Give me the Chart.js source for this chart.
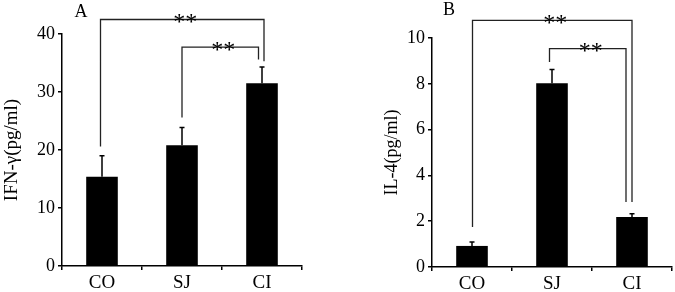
<!DOCTYPE html>
<html>
<head>
<meta charset="utf-8">
<script src="https://cdn.jsdelivr.net/npm/chart.js@4.4.1/dist/chart.umd.min.js"></script>
<style>
    html, body { margin: 0; padding: 0; background: #fff; }
    #wrap { position: relative; width: 675px; height: 292px; }
    canvas { position: absolute; top: 0; }
</style>
</head>
<body>
<div id="wrap">
    <canvas id="chartA" width="340" height="292" style="left:0"></canvas>
    <canvas id="chartB" width="335" height="292" style="left:340px"></canvas>
</div>
<script>
const groups = ['CO', 'SJ', 'CI'];

const ifnMeans = [15.4, 20.8, 31.5];
const ifnErrors = [3.6, 3.1, 2.8];
const il4Means = [0.92, 8.02, 2.18];
const il4Errors = [0.17, 0.6, 0.15];

// significance brackets: [fromBar, toBar, fromLegEnd, toLegEnd, top] (data units)
const ifnBrackets = [[0, 2, 20.6, 35.3, 42.5], [1, 2, 25.6, 35.6, 37.75]];
const il4Brackets = [[0, 2, 1.75, 2.84, 10.77], [1, 2, 8.95, 2.84, 9.54]];

const FONT = "'Liberation Serif', 'Times New Roman', serif";

// small pixel nudges so the two legs next to CI don't overlap
const ifnLegShift = [[-1.5, 2], [0, -3.5]];
const il4LegShift = [[0.5, 0], [-2.5, -6]];

const errorBars = {
    id: 'errorBars',
    afterDatasetsDraw(chart) {
        const ctx = chart.ctx;
        const y = chart.scales.y;
        const ds = chart.data.datasets[0];
        ctx.save();
        ctx.strokeStyle = '#000';
        ctx.lineWidth = 1.5;
        chart.getDatasetMeta(0).data.forEach((bar, i) => {
            const top = y.getPixelForValue(ds.data[i] + ds.errors[i]);
            ctx.beginPath();
            ctx.moveTo(bar.x, bar.y);
            ctx.lineTo(bar.x, top);
            ctx.moveTo(bar.x - 2.5, top);
            ctx.lineTo(bar.x + 2.5, top);
            ctx.stroke();
        });
        ctx.restore();
    }
};

function bracketPlugin(brackets, shifts, letter, letterX, letterY) {
    return {
        id: 'brackets',
        afterDraw(chart) {
            const ctx = chart.ctx;
            const y = chart.scales.y;
            const bars = chart.getDatasetMeta(0).data;
            ctx.save();
            ctx.strokeStyle = '#222';
            ctx.lineWidth = 1.3;
            ctx.fillStyle = '#000';
            brackets.forEach((b, k) => {
                const x1 = bars[b[0]].x + shifts[k][0];
                const x2 = bars[b[1]].x + shifts[k][1];
                const yTop = y.getPixelForValue(b[4]);
                ctx.beginPath();
                ctx.moveTo(x1, y.getPixelForValue(b[2]));
                ctx.lineTo(x1, yTop);
                ctx.lineTo(x2, yTop);
                ctx.lineTo(x2, y.getPixelForValue(b[3]));
                ctx.stroke();
                ctx.font = '24px ' + FONT;
                ctx.textAlign = 'center';
                ctx.textBaseline = 'alphabetic';
                ctx.fillText('**', (x1 + x2) / 2 + 3, yTop + 9.5);
            });
            ctx.font = '18px ' + FONT;
            ctx.textAlign = 'center';
            ctx.textBaseline = 'middle';
            ctx.fillText(letter, letterX, letterY);
            ctx.restore();
        }
    };
}

function makeChart(id, means, errors, max, step, title, titleSize, titlePad, axisWidth, pad, xHeight, plugin) {
    return new Chart(document.getElementById(id), {
        type: 'bar',
        plugins: [errorBars, plugin],
        data: {
            labels: groups,
            datasets: [{
                data: means,
                errors: errors,
                backgroundColor: '#000',
                borderWidth: 0,
                barPercentage: 0.395,
                categoryPercentage: 1
            }]
        },
        options: {
            responsive: false,
            animation: false,
            devicePixelRatio: 1,
            layout: { padding: pad },
            plugins: { legend: { display: false }, tooltip: { enabled: false } },
            scales: {
                x: {
                    ticks: { color: '#000', font: { family: FONT, size: 19 }, padding: 2 },
                    grid: { drawOnChartArea: false, tickLength: 4, color: '#000', lineWidth: 1.5, offset: true },
                    border: { color: '#000', width: 1.5 },
                    afterFit: (scale) => { scale.height = xHeight; }
                },
                y: {
                    min: 0,
                    max: max,
                    ticks: { stepSize: step, color: '#000', font: { family: FONT, size: 18 }, padding: 3 },
                    grid: { drawOnChartArea: false, tickLength: 4, color: '#000', lineWidth: 1.5 },
                    border: { color: '#000', width: 1.5 },
                    title: {
                        display: true,
                        text: title,
                        color: '#000',
                        font: { family: FONT, size: titleSize },
                        padding: { top: titlePad, bottom: 0 }
                    },
                    afterFit: (scale) => { scale.width = axisWidth; }
                }
            }
        }
    });
}

makeChart('chartA', ifnMeans, ifnErrors, 40, 10, 'IFN-γ(pg/ml)', 19, 1, 62,
    { top: 34, right: 38, bottom: 0, left: 0 }, 26,
    bracketPlugin(ifnBrackets, ifnLegShift, 'A', 81, 12));

makeChart('chartB', il4Means, il4Errors, 10, 2, 'IL-4(pg/ml)', 18, 41, 92,
    { top: 38, right: 3, bottom: 0, left: 0 }, 25,
    bracketPlugin(il4Brackets, il4LegShift, 'B', 109, 10));
</script>
</body>
</html>
